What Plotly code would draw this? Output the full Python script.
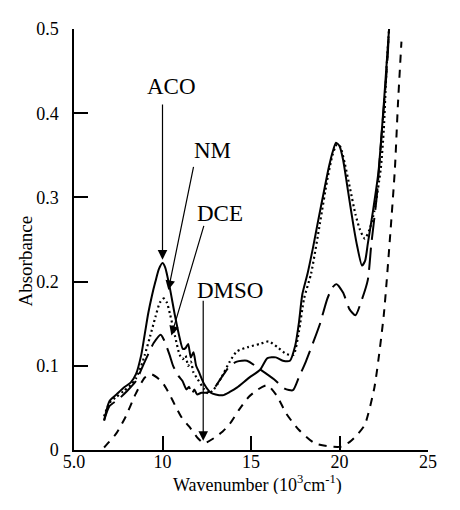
import plotly.graph_objects as go

# ---- data ----
aco_x = [6.7, 7.0, 7.4, 7.8, 8.2, 8.5, 8.8, 9.0, 9.2, 9.4, 9.6, 9.8, 10.0, 10.15, 10.4, 10.7, 10.97,
         11.15, 11.3, 11.45, 11.6, 11.75, 11.9, 12.05, 12.36, 12.73, 13.0, 13.4, 13.8, 14.2, 14.9,
         15.5, 15.93, 16.4, 16.8, 17.2, 17.5, 17.7, 17.9, 18.2, 18.5, 18.8, 19.1, 19.4, 19.6, 19.8,
         20.0, 20.2, 20.5, 20.8, 21.0, 21.27, 21.45, 21.6, 21.9, 22.2, 22.5, 22.7, 22.8]
aco_y = [0.035, 0.058, 0.066, 0.074, 0.080, 0.090, 0.113, 0.138, 0.163, 0.183, 0.200, 0.215, 0.222,
         0.217, 0.194, 0.160, 0.133, 0.120, 0.121, 0.126, 0.110, 0.116, 0.100, 0.093, 0.078, 0.068,
         0.066, 0.065, 0.069, 0.074, 0.086, 0.095, 0.109, 0.110, 0.106, 0.106, 0.124, 0.150, 0.185,
         0.210, 0.240, 0.273, 0.305, 0.336, 0.353, 0.365, 0.361, 0.345, 0.305, 0.265, 0.242, 0.219,
         0.225, 0.245, 0.285, 0.330, 0.410, 0.470, 0.500]

nm_x = [6.7, 7.0, 7.4, 7.8, 8.2, 8.5, 8.8, 9.0, 9.3, 9.6, 9.85, 10.07, 10.25, 10.44, 10.7, 10.97,
        11.15, 11.3, 11.45, 11.6, 11.75, 11.93, 12.36, 12.6, 12.9, 13.3, 13.8, 14.2, 14.8, 15.5,
        16.0, 16.5, 17.0, 17.4, 17.7, 18.0, 18.4, 18.9, 19.3, 19.6, 19.85, 20.05, 20.3, 20.6, 20.9,
        21.15, 21.43, 21.7, 21.97, 22.33, 22.5, 22.65, 22.8]
nm_y = [0.040, 0.056, 0.063, 0.070, 0.077, 0.085, 0.100, 0.113, 0.135, 0.158, 0.175, 0.180, 0.175,
        0.160, 0.136, 0.113, 0.108, 0.112, 0.100, 0.105, 0.092, 0.086, 0.072, 0.067, 0.072, 0.085,
        0.105, 0.117, 0.122, 0.126, 0.129, 0.122, 0.114, 0.113, 0.140, 0.180, 0.210, 0.270, 0.320,
        0.350, 0.363, 0.360, 0.340, 0.310, 0.280, 0.262, 0.251, 0.262, 0.284, 0.334, 0.380, 0.450,
        0.500]

dce_x = [6.7, 7.0, 7.5, 8.0, 8.5, 9.0, 9.5, 9.9, 10.1, 10.4, 10.6, 10.9, 11.13, 11.35, 11.5, 11.65,
         11.8, 11.95, 12.2, 12.5, 12.9, 13.3, 13.8, 14.2, 14.77, 15.5, 16.3, 16.9, 17.37, 17.7,
         18.1, 18.5, 18.9, 19.3, 19.6, 19.83, 20.2, 20.57, 20.9, 21.27, 21.6, 21.8, 22.1, 22.4,
         22.7, 22.8]
dce_y = [0.035, 0.052, 0.060, 0.070, 0.082, 0.105, 0.127, 0.137, 0.130, 0.113, 0.100, 0.088, 0.082,
         0.072, 0.075, 0.066, 0.072, 0.066, 0.068, 0.068, 0.073, 0.085, 0.100, 0.105, 0.106, 0.096,
         0.084, 0.073, 0.071, 0.086, 0.105, 0.127, 0.150, 0.179, 0.193, 0.197, 0.187, 0.167, 0.160,
         0.179, 0.202, 0.245, 0.300, 0.380, 0.460, 0.500]

dmso_x = [6.7, 7.0, 7.4, 7.93, 8.47, 9.0, 9.37, 9.7, 10.07, 10.4, 10.76, 11.1, 11.5, 12.0, 12.35,
          12.9, 13.4, 13.8, 14.33, 14.87, 15.4, 15.93, 16.47, 17.0, 17.7, 18.6, 19.5, 20.1, 20.6,
          21.0, 21.43, 21.97, 22.5, 22.87, 23.13, 23.3, 23.5]
dmso_y = [0.003, 0.010, 0.020, 0.040, 0.066, 0.086, 0.090, 0.086, 0.078, 0.066, 0.051, 0.038, 0.028,
          0.014, 0.008, 0.014, 0.022, 0.031, 0.048, 0.063, 0.072, 0.077, 0.064, 0.043, 0.024, 0.008,
          0.004, 0.004, 0.010, 0.018, 0.030, 0.074, 0.160, 0.257, 0.334, 0.410, 0.485]

x_tickvals = [5, 10, 15, 20, 25]
x_ticktext = ["5.0", "10", "15", "20", "25"]
y_tickvals = [0, 0.1, 0.2, 0.3, 0.4, 0.5]
y_ticktext = ["0", "0.1", "0.2", "0.3", "0.4", "0.5"]

x_title = "Wavenumber (10<sup>3</sup>cm<sup>-1</sup>)"
y_title = "Absorbance"

# labels: name, text position (x, y), arrow tail (x, y), arrow head (x, y)
label_names = ["ACO", "NM", "DCE", "DMSO"]
label_pos = [(10.49, 0.432), (12.84, 0.356), (13.27, 0.281), (13.8, 0.190)]
arrow_tail = [(10.0, 0.412), (11.77, 0.338), (12.36, 0.268), (12.3, 0.179)]
arrow_head = [(10.0, 0.226), (10.33, 0.190), (10.5, 0.136), (12.3, 0.011)]

FONT = "Liberation Serif, DejaVu Serif, Tinos, Times New Roman, Times, serif"

fig = go.Figure()
fig.add_trace(go.Scatter(x=aco_x, y=aco_y, mode="lines", name="ACO",
                         line=dict(color="black", width=2, dash="solid", shape="spline", smoothing=0.6)))
fig.add_trace(go.Scatter(x=nm_x, y=nm_y, mode="lines", name="NM",
                         line=dict(color="black", width=2.2, dash="2px,3px", shape="spline", smoothing=0.6)))
fig.add_trace(go.Scatter(x=dce_x, y=dce_y, mode="lines", name="DCE",
                         line=dict(color="black", width=2, dash="22px,8px", shape="spline", smoothing=0.6)))
fig.add_trace(go.Scatter(x=dmso_x, y=dmso_y, mode="lines", name="DMSO",
                         line=dict(color="black", width=2, dash="8px,7px", shape="spline", smoothing=0.6)))

for name, (tx, ty), (ax, ay), (hx, hy) in zip(label_names, label_pos, arrow_tail, arrow_head):
    fig.add_annotation(x=tx, y=ty, xref="x", yref="y", text=name, showarrow=False,
                       font=dict(family=FONT, size=23, color="black"))
    fig.add_annotation(x=hx, y=hy, ax=ax, ay=ay, xref="x", yref="y", axref="x", ayref="y",
                       text="", showarrow=True, arrowhead=2, arrowsize=1.6, arrowwidth=1.2,
                       arrowcolor="black", standoff=0, startstandoff=0)

# axis titles
fig.add_annotation(x=0.518, y=-0.080, xref="paper", yref="paper", text=x_title, showarrow=False,
                   xanchor="center", yanchor="middle", font=dict(family=FONT, size=18, color="black"))
fig.add_annotation(x=-0.138, y=0.448, xref="paper", yref="paper", text=y_title, showarrow=False,
                   textangle=-90, xanchor="center", yanchor="middle",
                   font=dict(family=FONT, size=19, color="black"))

# the page body has an 8px margin on every side; leave slack so nothing overflows the window
fig.update_layout(
    width=440, height=486,
    margin=dict(l=66, r=11, t=16, b=44),
    paper_bgcolor="white", plot_bgcolor="white",
    showlegend=False,
    font=dict(family=FONT, color="black", size=18),
)
fig.update_xaxes(range=[5, 25], tickvals=x_tickvals, ticktext=x_ticktext,
                 ticks="inside", ticklen=14, tickwidth=1.5, tickcolor="black",
                 showline=True, linecolor="black", linewidth=1.5, showgrid=False, zeroline=False,
                 ticklabelstandoff=-5,
                 tickfont=dict(family=FONT, size=18, color="black"))
fig.update_yaxes(range=[0, 0.5], tickvals=y_tickvals, ticktext=y_ticktext,
                 ticks="inside", ticklen=14, tickwidth=1.5, tickcolor="black",
                 showline=True, linecolor="black", linewidth=1.5, showgrid=False, zeroline=False,
                 ticklabelstandoff=10,
                 tickfont=dict(family=FONT, size=18, color="black"))

fig.write_html("out.html")
